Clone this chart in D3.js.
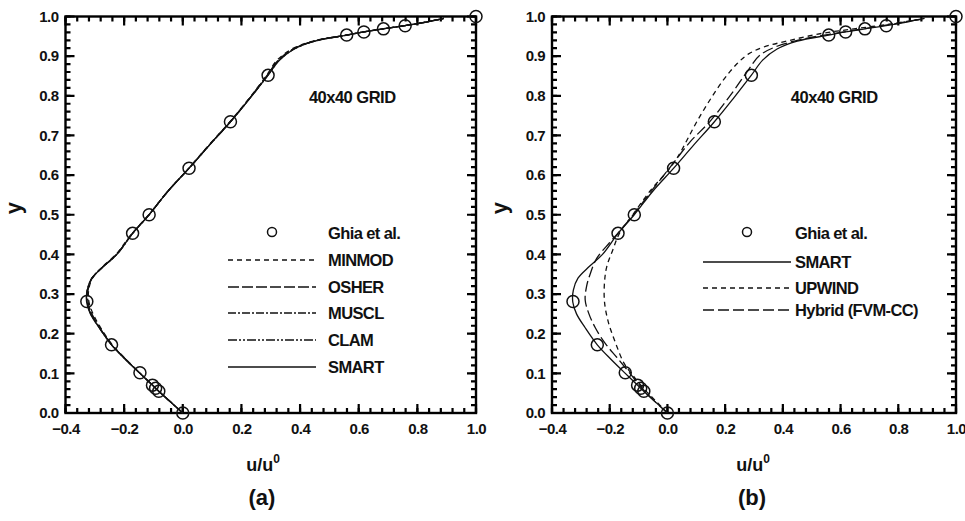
<!DOCTYPE html>
<html>
<head>
<meta charset="utf-8">
<script src="https://cdn.jsdelivr.net/npm/d3@7"></script>
<style>
body { margin: 0; background: #fff; }
text { font-family: "Liberation Sans", Arial, sans-serif; font-weight: bold; fill: #111; }
</style>
</head>
<body>
<div id="chart"></div>
<script>
var width = 965;
var height = 521;

// Ghia et al. reference points [u, y]
var ghia = [[1.0,1.0],[0.75837,0.9766],[0.68439,0.9688],[0.61756,0.9609],[0.55892,0.9531],
  [0.29093,0.8516],[0.16256,0.7344],[0.02135,0.6172],[-0.11477,0.5],[-0.17119,0.4531],
  [-0.32726,0.2813],[-0.24299,0.1719],[-0.14612,0.1016],[-0.10338,0.0703],[-0.09266,0.0625],
  [-0.08186,0.0547],[0.0,0.0]];

// computed profiles [u, y]
var smart = [[0,0],[-0.045,0.03],[-0.082,0.055],[-0.103,0.07],[-0.146,0.10],[-0.195,0.135],
  [-0.243,0.172],[-0.285,0.215],[-0.315,0.25],[-0.328,0.28],[-0.326,0.31],[-0.31,0.34],
  [-0.27,0.37],[-0.225,0.40],[-0.171,0.453],[-0.115,0.5],[-0.05,0.56],[0.021,0.617],
  [0.09,0.675],[0.162,0.734],[0.23,0.795],[0.291,0.852],[0.33,0.89],[0.38,0.918],
  [0.45,0.938],[0.559,0.953],[0.617,0.961],[0.684,0.969],[0.758,0.977],[0.83,0.986],[0.89,0.995]];
var minmod = [[0,0],[-0.045,0.03],[-0.082,0.055],[-0.103,0.07],[-0.145,0.10],[-0.193,0.135],
  [-0.24,0.172],[-0.28,0.215],[-0.306,0.25],[-0.32,0.28],[-0.321,0.31],[-0.308,0.34],
  [-0.272,0.37],[-0.228,0.40],[-0.173,0.453],[-0.116,0.5],[-0.05,0.56],[0.02,0.617],
  [0.088,0.675],[0.16,0.734],[0.228,0.795],[0.286,0.852],[0.322,0.89],[0.372,0.918],
  [0.445,0.938],[0.557,0.953],[0.615,0.961],[0.682,0.969],[0.756,0.977],[0.83,0.986],[0.89,0.995]];
var osher = [[0,0],[-0.045,0.03],[-0.082,0.055],[-0.103,0.07],[-0.146,0.10],[-0.194,0.135],
  [-0.242,0.172],[-0.283,0.215],[-0.31,0.25],[-0.323,0.28],[-0.323,0.31],[-0.309,0.34],
  [-0.271,0.37],[-0.226,0.40],[-0.172,0.453],[-0.115,0.5],[-0.05,0.56],[0.021,0.617],
  [0.089,0.675],[0.161,0.734],[0.229,0.795],[0.288,0.852],[0.326,0.89],[0.376,0.918],
  [0.448,0.938],[0.558,0.953],[0.616,0.961],[0.683,0.969],[0.757,0.977],[0.83,0.986],[0.89,0.995]];
var muscl = [[0,0],[-0.045,0.03],[-0.082,0.055],[-0.103,0.07],[-0.146,0.10],[-0.195,0.135],
  [-0.243,0.172],[-0.284,0.215],[-0.313,0.25],[-0.326,0.28],[-0.325,0.31],[-0.31,0.34],
  [-0.27,0.37],[-0.225,0.40],[-0.171,0.453],[-0.115,0.5],[-0.05,0.56],[0.021,0.617],
  [0.09,0.675],[0.162,0.734],[0.23,0.795],[0.29,0.852],[0.328,0.89],[0.378,0.918],
  [0.449,0.938],[0.559,0.953],[0.617,0.961],[0.684,0.969],[0.758,0.977],[0.83,0.986],[0.89,0.995]];
var clam = [[0,0],[-0.045,0.03],[-0.082,0.055],[-0.103,0.07],[-0.146,0.10],[-0.195,0.135],
  [-0.243,0.172],[-0.285,0.215],[-0.314,0.25],[-0.327,0.28],[-0.326,0.31],[-0.31,0.34],
  [-0.27,0.37],[-0.225,0.40],[-0.171,0.453],[-0.115,0.5],[-0.05,0.56],[0.021,0.617],
  [0.09,0.675],[0.162,0.734],[0.23,0.795],[0.291,0.852],[0.33,0.89],[0.38,0.918],
  [0.45,0.938],[0.559,0.953],[0.617,0.961],[0.684,0.969],[0.758,0.977],[0.83,0.986],[0.89,0.995]];
var upwind = [[0,0],[-0.04,0.03],[-0.08,0.06],[-0.12,0.095],[-0.15,0.125],[-0.18,0.177],
  [-0.205,0.23],[-0.218,0.28],[-0.218,0.33],[-0.21,0.37],[-0.19,0.41],[-0.165,0.455],
  [-0.12,0.5],[-0.06,0.56],[0.0,0.61],[0.035,0.645],[0.11,0.745],[0.19,0.836],[0.24,0.88],
  [0.28,0.905],[0.33,0.922],[0.425,0.94],[0.54,0.958],[0.66,0.97],[0.78,0.982],[0.89,0.995]];
var hybrid = [[0,0],[-0.045,0.03],[-0.085,0.06],[-0.13,0.1],[-0.175,0.14],[-0.215,0.175],
  [-0.25,0.215],[-0.272,0.25],[-0.285,0.285],[-0.28,0.32],[-0.268,0.35],[-0.245,0.39],
  [-0.2,0.43],[-0.17,0.455],[-0.115,0.503],[-0.05,0.565],[0.015,0.625],[0.08,0.685],
  [0.147,0.735],[0.227,0.81],[0.28,0.865],[0.32,0.902],[0.38,0.925],[0.47,0.943],
  [0.56,0.955],[0.68,0.969],[0.79,0.982],[0.89,0.995]];

var xTicks = [-0.4,-0.2,0.0,0.2,0.4,0.6,0.8,1.0];
var yTicks = [0.0,0.1,0.2,0.3,0.4,0.5,0.6,0.7,0.8,0.9,1.0];

var panelA = {left: 65.5, right: 476, tag: "(a)", labelX: 263,
  series: [
    {name: "MINMOD", data: minmod, dash: "5,4"},
    {name: "OSHER", data: osher, dash: "11,3"},
    {name: "MUSCL", data: muscl, dash: "8,2,2,2"},
    {name: "CLAM", data: clam, dash: "9,2,2,2,2,2"},
    {name: "SMART", data: smart, dash: null}
  ], legX: 228, textX: 328, legRows: [233, 260, 287, 313, 340, 367]};
var panelB = {left: 552, right: 956, tag: "(b)", labelX: 753,
  series: [
    {name: "SMART", data: smart, dash: null},
    {name: "UPWIND", data: upwind, dash: "5,4"},
    {name: "Hybrid (FVM-CC)", data: hybrid, dash: "11,4"}
  ], legX: 703, textX: 795, legRows: [233, 262, 288, 310]};

var top0 = 16.5, bottom0 = 413;

var svg = d3.select("#chart").append("svg")
    .attr("width", width)
    .attr("height", height);

function drawPanel(p) {
  var xScale = d3.scaleLinear().domain([-0.4, 1.0]).range([p.left, p.right]);
  var yScale = d3.scaleLinear().domain([0, 1]).range([bottom0, top0]);
  var g = svg.append("g");

  var xMinor = d3.range(-0.4, 1.0001, 0.04);
  var yMinor = d3.range(0, 1.0001, 0.02);

  // frame
  g.append("rect").attr("x", p.left).attr("y", top0)
    .attr("width", p.right - p.left).attr("height", bottom0 - top0)
    .attr("fill", "none").attr("stroke", "#000").attr("stroke-width", 2.4);

  // inward ticks on all four sides
  function xTickSet(vals, len) {
    g.append("g").selectAll("path").data(vals).enter().append("path")
      .attr("d", function(d) {
        var x = xScale(d);
        return "M" + x + "," + bottom0 + "v" + (-len) + "M" + x + "," + top0 + "v" + len;
      })
      .attr("stroke", "#000").attr("stroke-width", 2.2).attr("fill", "none");
  }
  function yTickSet(vals, len) {
    g.append("g").selectAll("path").data(vals).enter().append("path")
      .attr("d", function(d) {
        var y = yScale(d);
        return "M" + p.left + "," + y + "h" + len + "M" + p.right + "," + y + "h" + (-len);
      })
      .attr("stroke", "#000").attr("stroke-width", 2.2).attr("fill", "none");
  }
  xTickSet(xMinor, 5);
  yTickSet(yMinor, 5);
  xTickSet(xTicks, 9);
  yTickSet(yTicks, 9);

  // tick labels through d3 axes
  var xb = g.append("g").attr("transform", "translate(0," + bottom0 + ")")
    .call(d3.axisBottom(xScale).tickValues(xTicks).tickSize(0).tickPadding(12).tickFormat(d3.format(".1f")));
  var yl = g.append("g").attr("transform", "translate(" + p.left + ",0)")
    .call(d3.axisLeft(yScale).tickValues(yTicks).tickSize(0).tickPadding(7).tickFormat(d3.format(".1f")));
  xb.select(".domain").remove();
  yl.select(".domain").remove();
  g.selectAll(".tick text").attr("font-size", 15).attr("font-family", "Liberation Sans, Arial, sans-serif")
    .attr("font-weight", "bold").attr("fill", "#111").attr("letter-spacing", -0.5);
  xb.selectAll(".tick text").attr("dy", "0.6em");

  var line = d3.line()
      .x(function(d) { return xScale(d[0]); })
      .y(function(d) { return yScale(d[1]); })
      .curve(d3.curveCatmullRom);

  p.series.forEach(function(s) {
    g.append("path")
      .attr("d", line(s.data))
      .attr("fill", "none")
      .attr("stroke", "#111")
      .attr("stroke-width", 1.3)
      .attr("stroke-dasharray", s.dash);
  });

  g.selectAll("circle.ghia").data(ghia).enter().append("circle")
    .attr("class", "ghia")
    .attr("cx", function(d) { return xScale(d[0]); })
    .attr("cy", function(d) { return yScale(d[1]); })
    .attr("r", 6)
    .attr("fill", "none")
    .attr("stroke", "#111")
    .attr("stroke-width", 1.5);

  // legend
  var legLen = 88;
  g.append("circle").attr("cx", p.legX + legLen / 2).attr("cy", p.legRows[0] - 1).attr("r", 4.5)
    .attr("fill", "none").attr("stroke", "#111").attr("stroke-width", 1.5);
  g.append("text").attr("x", p.textX).attr("y", p.legRows[0] + 6)
    .attr("font-size", 16.5).attr("letter-spacing", -0.6).text("Ghia et al.");
  p.series.forEach(function(s, i) {
    var yy = p.legRows[i + 1];
    g.append("line").attr("x1", p.legX).attr("x2", p.legX + legLen)
      .attr("y1", yy).attr("y2", yy)
      .attr("stroke", "#111").attr("stroke-width", 1.3).attr("stroke-dasharray", s.dash);
    g.append("text").attr("x", p.textX).attr("y", yy + 6)
      .attr("font-size", 16.5).attr("letter-spacing", -0.6).text(s.name);
  });

  g.append("text").attr("x", xScale(0.578)).attr("y", 103).attr("text-anchor", "middle")
    .attr("font-size", 16.5).attr("letter-spacing", -0.5).text("40x40 GRID");

  g.append("text").attr("transform", "translate(" + (p.left - 45) + ",208) rotate(-90)")
    .attr("text-anchor", "middle").attr("font-size", 22).text("y");

  var ux = g.append("text").attr("x", p.labelX).attr("y", 471).attr("text-anchor", "middle")
    .attr("font-size", 18);
  ux.append("tspan").text("u/u");
  ux.append("tspan").attr("dy", -8).attr("font-size", 12).text("0");

  g.append("text").attr("x", p.labelX - 1).attr("y", 505).attr("text-anchor", "middle")
    .attr("font-size", 22).attr("font-weight", "normal").text(p.tag);
}

drawPanel(panelA);
drawPanel(panelB);
</script>
</body>
</html>
